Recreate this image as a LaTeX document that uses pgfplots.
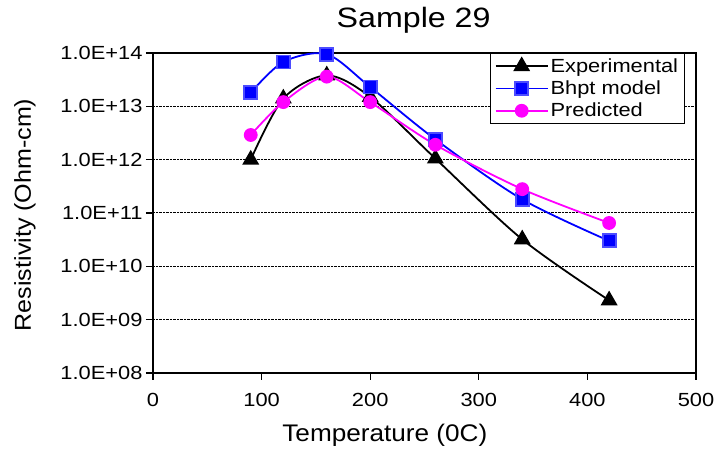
\documentclass[border=0pt]{standalone}
\usepackage{pgfplots}
\pgfplotsset{compat=1.18}
\usepackage{fontspec}
\setmainfont{Liberation Sans}
\newfontfamily\tickfont{Liberation Sans}[FakeStretch=1.15]
\newfontfamily\titlefont{Liberation Sans}[FakeStretch=1.15]
\newfontfamily\labfont{Liberation Sans}[FakeStretch=1.09]
\definecolor{predmag}{RGB}{255,0,255}
\definecolor{bhblue}{RGB}{0,0,255}
\begin{document}
\begin{tikzpicture}
\path[use as bounding box] (-153pt,-79pt) rectangle (563pt,373pt);
\begin{axis}[
  at={(0,0)}, anchor=south west,
  scale only axis, width=543pt, height=320pt,
  xmin=0, xmax=500, ymin=1e8, ymax=1e14, ymode=log,
  xtick={0,100,200,300,400,500},
  ytick={1e8,1e9,1e10,1e11,1e12,1e13,1e14},
  yticklabels={1.0E+08,1.0E+09,1.0E+10,1.0E+11,1.0E+12,1.0E+13,1.0E+14},
  yminorticks=false,
  /pgf/number format/assume math mode=true,
  xtick pos=left, ytick pos=left,
  tick align=outside, major tick length=7pt,
  tick style={black, line width=1.2pt},
  axis line style={black, line width=1.5pt},
  ymajorgrids, grid style={black, densely dotted, line width=1pt},
  ticklabel style={font=\tickfont\fontsize{19pt}{19pt}\selectfont},
  xticklabel style={yshift=-10pt},
  title={Sample 29},
  title style={at={(0.48,1.084)}, anchor=center, font=\titlefont\fontsize{28pt}{28pt}\selectfont},
  xlabel={Temperature (0C)},
  xlabel style={at={(0.427,-0.194)}, anchor=center, font=\labfont\fontsize{24pt}{24pt}\selectfont},
  ylabel={Resistivity (Ohm-cm)},
  ylabel style={at={(-0.236,0.494)}, anchor=center, font=\labfont\fontsize{23pt}{23pt}\selectfont},
  legend style={at={(rel axis cs:0.621,1)}, anchor=north west, draw=black, line width=1.2pt,
    font=\tickfont\fontsize{19pt}{20pt}\selectfont, inner xsep=4pt, inner ysep=3pt, row sep=3pt},
  legend cell align=left,
  legend image post style={line width=1.8pt},
  legend image code/.code={\draw[mark repeat=2,mark phase=2] plot coordinates {(0pt,0pt) (26pt,0pt) (52pt,0pt)};},
]
\addplot[black, line width=1.8pt, smooth, tension=0.5, mark=triangle*, mark size=8pt, mark options={solid, fill=black}]
  coordinates {(90,1.0e12) (120,1.4e13) (160,3.8e13) (200,1.5e13) (260,1.05e12) (340,3.2e10) (420,2.3e9)};
\addlegendentry{Experimental}
\addplot[bhblue, line width=1.8pt, smooth, tension=0.5, mark=square*, mark size=6.5pt, mark options={solid, fill=bhblue, draw=blue!70}]
  coordinates {(90,1.8e13) (120,6.8e13) (160,9.5e13) (200,2.3e13) (260,2.4e12) (340,1.8e11) (420,3.0e10)};
\addlegendentry{Bhpt model}
\addplot[predmag, line width=1.8pt, smooth, tension=0.5, mark=*, mark size=6pt, mark options={solid, fill=predmag}]
  coordinates {(90,2.9e12) (120,1.2e13) (160,3.6e13) (200,1.2e13) (260,1.9e12) (340,2.8e11) (420,6.5e10)};
\addlegendentry{Predicted}
\end{axis}
\end{tikzpicture}
\end{document}
